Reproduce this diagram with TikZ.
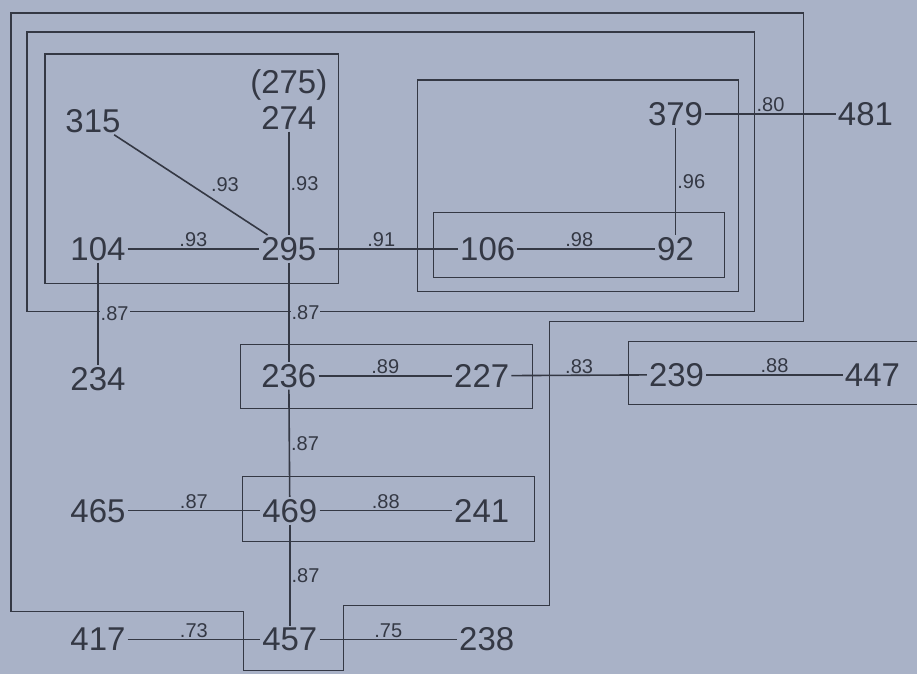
\documentclass[tikz,border=0pt]{standalone}
\usepackage{fontspec}
\setmainfont{Liberation Sans}
\definecolor{paper}{RGB}{169,178,199}
\definecolor{ink}{RGB}{52,56,68}
\tikzset{
  num/.style={font=\fontsize{33}{33}\selectfont, inner sep=2pt},
  wt/.style={font=\fontsize{20}{20}\selectfont, inner sep=1pt},
  cut/.style={wt, fill=paper, xshift=1pt},
  grp/.style={line width=1.2pt},
  link/.style={line width=1.6pt}
}

\begin{document}
\begin{tikzpicture}[x=1pt, y=-1pt, color=ink]
\fill[paper] (0,0) rectangle (918,674);

% group outlines
\draw[grp] (11,13) -- (804,13) -- (804,322) -- (550,322) -- (550,606) -- (344,606)
  -- (344,671) -- (244,671) -- (244,612) -- (11,612) -- cycle;
\draw[grp] (27,32) rectangle (755,312);
\draw[grp] (45,54) rectangle (339,284);
\draw[grp] (418,80) rectangle (739,292);
\draw[grp] (434,213) rectangle (725,278);
\draw[grp] (241,345) rectangle (533,409);
\draw[grp] (918,342) -- (629,342) -- (629,405) -- (918,405);
\draw[grp] (243,477) rectangle (535,542);

% variables
\node[num] (n315) at (93,121) {315};
\node[num] (n275) at (289,85) {(275)};
\node[num] (n274) at (289,118) {274};
\node[num] (n104) at (98,249) {104};
\node[num] (n295) at (289,249) {295};
\node[num] (n106) at (488,249) {106};
\node[num] (n92) at (676,249) {92};
\node[num] (n379) at (676,114) {379};
\node[num] (n481) at (866,114) {481};
\node[num] (n234) at (98,379) {234};
\node[num] (n236) at (289,376) {236};
\node[num] (n227) at (482,376) {227};
\node[num] (n239) at (677,375) {239};
\node[num] (n447) at (873,375) {447};
\node[num] (n465) at (98,511) {465};
\node[num] (n469) at (290,511) {469};
\node[num] (n241) at (482,511) {241};
\node[num] (n417) at (98,640) {417};
\node[num] (n457) at (290,640) {457};
\node[num] (n238) at (487,640) {238};

% links
\draw[link] (n315) -- node[wt, pos=.62, anchor=south west, yshift=3pt] (w1) {.93} (n295);
\draw[link] (n274) -- node[wt, right] (w2) {.93} (n295);
\draw[link] (n104) -- node[wt, above] (w3) {.93} (n295);
\draw[link] (n295) -- node[wt, above, pos=.45] (w4) {.91} (n106);
\draw[link] (n106) -- node[wt, above, pos=.45] (w5) {.98} (n92);
\draw[link] (n379) -- node[wt, right] (w6) {.96} (n92);
\draw[link] (n379) -- node[wt, above] (w7) {.80} (n481);
\draw[link] (n104) -- node[cut, right] (w8) {.87} (n234);
\draw[link] (n295) -- node[cut, right] (w9) {.87} (n236);
\draw[link] (n236) -- node[wt, above] (w10) {.89} (n227);
\draw[link] (n227) -- node[wt, above] (w11) {.83} (n239);
\draw[link] (n239) -- node[wt, above] (w12) {.88} (n447);
\draw[link] (n236) -- node[wt, right] (w13) {.87} (n469);
\draw[link] (n465) -- node[wt, above] (w14) {.87} (n469);
\draw[link] (n469) -- node[wt, above] (w15) {.88} (n241);
\draw[link] (n469) -- node[wt, right] (w16) {.87} (n457);
\draw[link] (n417) -- node[wt, above] (w17) {.73} (n457);
\draw[link] (n457) -- node[wt, above] (w18) {.75} (n238);
\end{tikzpicture}
\end{document}
